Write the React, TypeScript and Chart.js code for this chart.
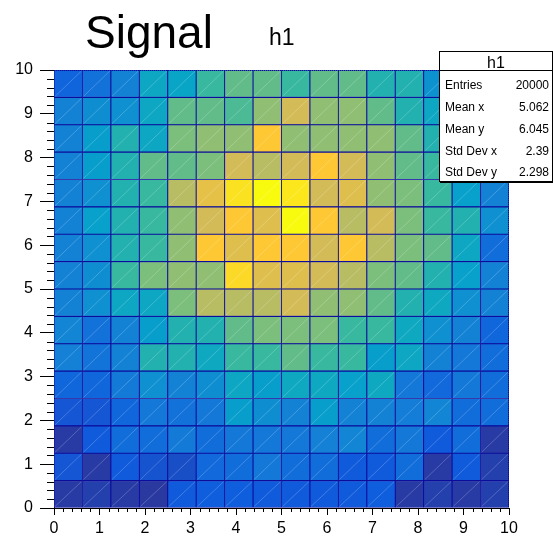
import React, { useEffect, useRef } from "react";
import { Chart, registerables } from "chart.js";

Chart.register(...registerables);

// ---------------- data ----------------
const titleText = "Signal";
const histName = "h1";
const xMin = 0;
const xMax = 10;
const yMin = 0;
const yMax = 10;
const nBinsX = 16;
const nBinsY = 16;
const tickStep = 1;

const statsLabels = ["Entries", "Mean x", "Mean y", "Std Dev x", "Std Dev y"];
const statsValues = ["20000", "5.062", "6.045", "2.39", "2.298"];

// bin contents, rows listed from the top row (y = 9.375..10) down to the bottom row (y = 0..0.625)
const countsTopToBottom: number[][] = [
  [41, 49, 58, 81, 79, 100, 110, 110, 100, 110, 110, 92, 92, 68, 60, 52],
  [58, 65, 66, 81, 110, 110, 105, 121, 140, 121, 121, 110, 92, 81, 68, 60],
  [58, 74, 92, 81, 116, 121, 121, 159, 121, 121, 121, 121, 110, 92, 76, 65],
  [58, 74, 92, 110, 110, 116, 140, 132, 140, 159, 140, 121, 110, 100, 81, 68],
  [58, 66, 92, 100, 132, 148, 170, 180, 172, 140, 145, 121, 116, 100, 76, 58],
  [58, 76, 92, 100, 121, 140, 159, 145, 180, 159, 132, 140, 116, 100, 92, 66],
  [58, 66, 92, 100, 121, 159, 145, 159, 159, 140, 159, 132, 116, 110, 81, 46],
  [58, 65, 100, 116, 121, 121, 166, 145, 145, 140, 132, 116, 110, 92, 76, 58],
  [58, 66, 81, 81, 116, 132, 132, 132, 140, 121, 121, 110, 92, 82, 66, 58],
  [60, 49, 58, 74, 92, 92, 110, 116, 116, 116, 100, 100, 82, 66, 58, 42],
  [57, 50, 58, 92, 92, 82, 100, 100, 110, 100, 100, 74, 81, 58, 52, 46],
  [42, 42, 54, 66, 58, 65, 81, 74, 82, 82, 76, 82, 52, 44, 52, 46],
  [34, 34, 42, 52, 49, 52, 74, 65, 58, 74, 58, 58, 55, 60, 46, 46],
  [23, 36, 46, 46, 54, 46, 52, 52, 52, 57, 60, 46, 52, 36, 46, 23],
  [34, 23, 36, 33, 31, 44, 46, 52, 46, 46, 36, 36, 46, 23, 36, 25],
  [23, 25, 23, 22, 36, 38, 38, 36, 36, 36, 36, 38, 23, 25, 23, 25],
];

// colour-axis range of the palette
const zPaletteMin = 16;
const zPaletteMax = 180;

// ROOT kBird palette
const birdStops = [0.0, 0.125, 0.25, 0.375, 0.5, 0.625, 0.75, 0.875, 1.0];
const birdRed = [0.2082, 0.0592, 0.078, 0.0232, 0.1802, 0.5301, 0.8186, 0.9956, 0.9764];
const birdGreen = [0.1664, 0.3599, 0.5041, 0.6419, 0.7178, 0.7492, 0.7328, 0.7862, 0.9832];
const birdBlue = [0.5293, 0.8684, 0.8385, 0.7914, 0.6425, 0.4662, 0.3499, 0.1968, 0.0539];

const FONT = "'Liberation Sans', Arial, Helvetica, sans-serif";
const CELL_BORDER = "#0c0c9c";

function birdColor(t: number): string {
  const v = Math.max(0, Math.min(1, t));
  let k = 0;
  while (k < birdStops.length - 2 && v > birdStops[k + 1]) k++;
  const f = (v - birdStops[k]) / (birdStops[k + 1] - birdStops[k]);
  const c = (a: number[]) => Math.round(255 * (a[k] + (a[k + 1] - a[k]) * f));
  return `rgb(${c(birdRed)},${c(birdGreen)},${c(birdBlue)})`;
}

const extrasPlugin = {
  id: "rootExtras",
  afterDatasetsDraw(chart: any) {
    const ctx = chart.ctx;
    const { left, right, top, bottom } = chart.chartArea;
    ctx.save();
    // faint diagonal inside each cell
    ctx.strokeStyle = "rgba(255,255,255,0.35)";
    ctx.lineWidth = 0.6;
    chart.data.datasets.forEach((_ds: any, di: number) => {
      const meta = chart.getDatasetMeta(di);
      meta.data.forEach((el: any) => {
        const p = el.getProps(["x", "y", "base", "width"], true);
        ctx.beginPath();
        ctx.moveTo(p.x - p.width / 2 + 1, p.base - 1);
        ctx.lineTo(p.x + p.width / 2 - 1, p.y + 1);
        ctx.stroke();
      });
    });
    // dotted frame on top and right
    ctx.setLineDash([1, 1]);
    ctx.strokeStyle = CELL_BORDER;
    ctx.lineWidth = 1;
    ctx.beginPath();
    ctx.moveTo(left, top + 0.5);
    ctx.lineTo(right, top + 0.5);
    ctx.moveTo(right - 0.5, top);
    ctx.lineTo(right - 0.5, bottom);
    ctx.stroke();
    ctx.restore();
  },
  afterDraw(chart: any) {
    const ctx = chart.ctx;
    const { left, bottom } = chart.chartArea;
    const xs = chart.scales.x;
    const ys = chart.scales.y;
    ctx.save();
    ctx.strokeStyle = "#000";
    ctx.lineWidth = 1;
    ctx.beginPath();
    const minorPerMajor = 5;
    for (let m = 0; m <= (xMax - xMin) * minorPerMajor; m++) {
      if (m % minorPerMajor === 0) continue;
      const v = xMin + (m * tickStep) / minorPerMajor;
      const px = Math.round(xs.getPixelForValue(v)) + 0.5;
      ctx.moveTo(px, bottom);
      ctx.lineTo(px, bottom + 4);
    }
    for (let m = 0; m <= (yMax - yMin) * minorPerMajor; m++) {
      if (m % minorPerMajor === 0) continue;
      const v = yMin + (m * tickStep) / minorPerMajor;
      const py = Math.round(ys.getPixelForValue(v)) + 0.5;
      ctx.moveTo(left - 7, py);
      ctx.lineTo(left, py);
    }
    ctx.stroke();
    ctx.restore();
  },
};

export default function App() {
  const canvasRef = useRef<HTMLCanvasElement | null>(null);

  useEffect(() => {
    if (!canvasRef.current) return;
    const bwX = (xMax - xMin) / nBinsX;
    const bwY = (yMax - yMin) / nBinsY;

    const datasets = [];
    for (let j = 0; j < nBinsY; j++) {
      const row = countsTopToBottom[nBinsY - 1 - j];
      const yLo = yMin + j * bwY;
      const yHi = yLo + bwY;
      datasets.push({
        label: `row${j}`,
        data: row.map((_c, i) => ({ x: xMin + (i + 0.5) * bwX, y: [yLo, yHi] })),
        backgroundColor: row.map((c) => birdColor((c - zPaletteMin) / (zPaletteMax - zPaletteMin))),
        borderColor: CELL_BORDER,
        borderWidth: 0.85,
        borderSkipped: false,
        grouped: false,
        barPercentage: 1,
        categoryPercentage: 1,
      });
    }

    const chart = new Chart(canvasRef.current, {
      type: "bar",
      data: { datasets } as any,
      options: {
        animation: false,
        responsive: false,
        events: [],
        layout: { padding: { left: 0, right: 44, top: 70, bottom: 0 } },
        plugins: {
          legend: { display: false },
          tooltip: { enabled: false },
          title: { display: false },
        },
        scales: {
          x: {
            type: "linear",
            min: xMin,
            max: xMax,
            offset: false,
            grid: { drawOnChartArea: false, drawTicks: true, tickLength: 7, tickColor: "#000", offset: false },
            border: { display: true, color: "#000", width: 1 },
            ticks: {
              stepSize: tickStep,
              autoSkip: false,
              maxRotation: 0,
              padding: 4,
              color: "#000",
              font: { family: FONT, size: 16 },
            },
            afterFit: (s: any) => {
              s.height = 28;
            },
          },
          y: {
            type: "linear",
            min: yMin,
            max: yMax,
            grid: { drawOnChartArea: false, drawTicks: true, tickLength: 14, tickColor: "#000" },
            border: { display: true, color: "#000", width: 1 },
            ticks: {
              stepSize: tickStep,
              autoSkip: false,
              padding: 7,
              color: "#000",
              font: { family: FONT, size: 16 },
            },
            afterFit: (s: any) => {
              s.width = 54;
            },
          },
        },
      } as any,
      plugins: [extrasPlugin],
    });
    return () => chart.destroy();
  }, []);

  const rowCenters = [85, 107, 129, 151, 172];

  return (
    <div style={{ position: "fixed", left: 0, top: 0, width: 553, height: 536, background: "#fff", fontFamily: FONT }}>
      <canvas ref={canvasRef} width={553} height={536} style={{ display: "block", position: "absolute", left: 0, top: 0 }} />
      <div style={{ position: "absolute", left: 85, top: 9, fontSize: 46, lineHeight: "46px", color: "#000", whiteSpace: "nowrap" }}>
        {titleText}
      </div>
      <div style={{ position: "absolute", left: 269, top: 26, fontSize: 23, lineHeight: "23px", color: "#000" }}>
        {histName}
      </div>
      <div
        style={{
          position: "absolute",
          left: 439,
          top: 51,
          width: 112,
          height: 129,
          border: "1px solid #000",
          boxShadow: "1px 1px 0 #000",
          background: "#fff",
          color: "#000",
        }}
      >
        <div style={{ position: "absolute", left: 0, top: 0, width: "100%", height: 18, borderBottom: "1px solid #000" }} />
        <div style={{ position: "absolute", left: 0, top: 2, width: "100%", textAlign: "center", fontSize: 16, lineHeight: "18px" }}>
          {histName}
        </div>
        {statsLabels.map((lab, k) => (
          <div
            key={lab}
            style={{
              position: "absolute",
              left: 5,
              right: 3,
              top: rowCenters[k] - 11 - 52,
              height: 22,
              lineHeight: "22px",
              fontSize: 12,
              display: "flex",
              justifyContent: "space-between",
              whiteSpace: "nowrap",
            }}
          >
            <span>{lab}</span>
            <span>{statsValues[k]}</span>
          </div>
        ))}
      </div>
    </div>
  );
}
